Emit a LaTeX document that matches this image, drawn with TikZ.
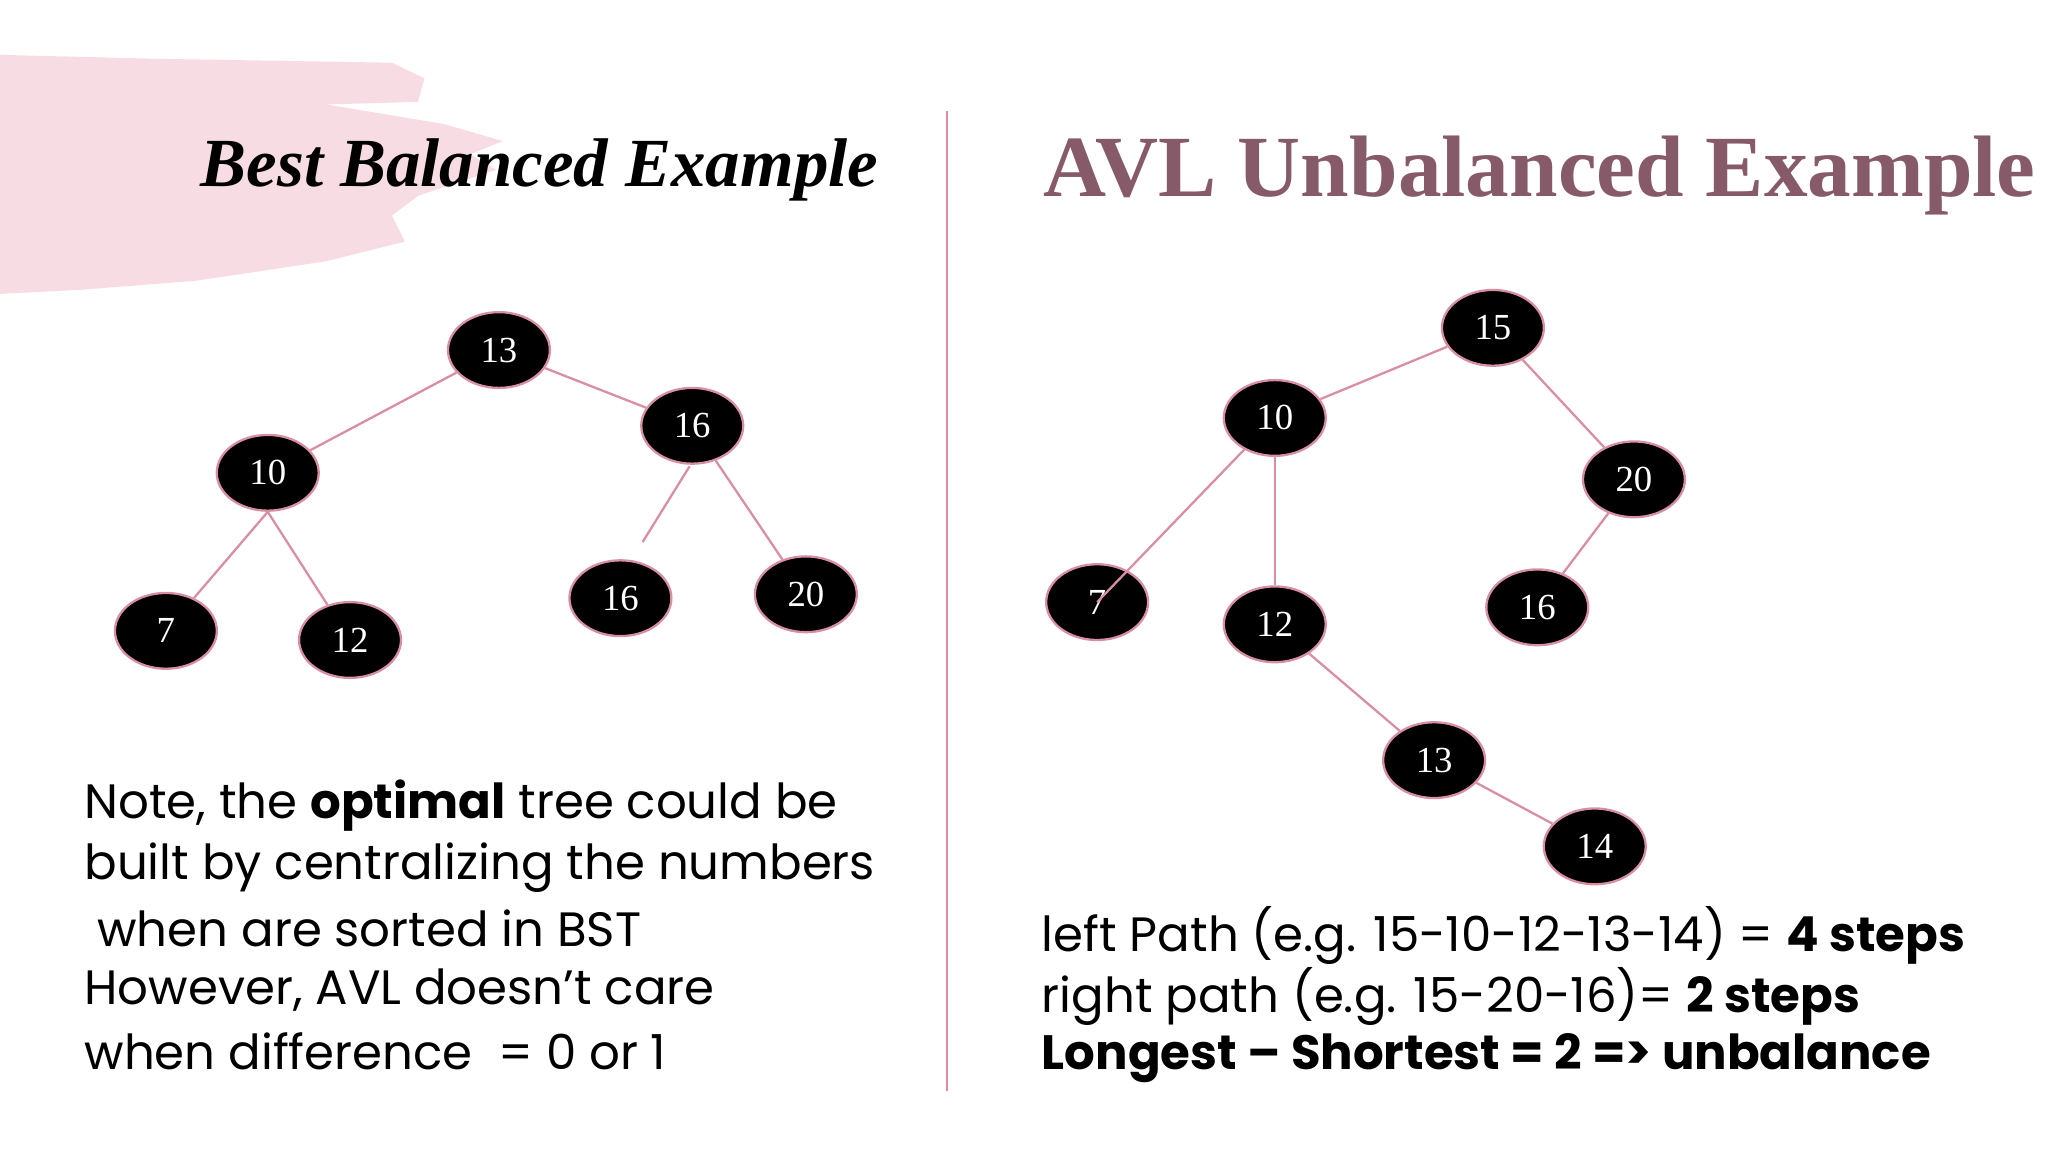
\documentclass[tikz,border=0pt]{standalone}
\usepackage{fontspec}
\setmainfont{Liberation Serif}
\newfontfamily\bodyfont{Poppins}
\usetikzlibrary{shapes.geometric}
\definecolor{pinkline}{HTML}{D98FA3}
\definecolor{blush}{HTML}{F7DDE3}
\definecolor{plum}{HTML}{875A6A}
\tikzset{
  tn/.style={ellipse,fill=black,draw=pinkline,line width=0.5pt,minimum width=0.78cm,minimum height=0.58cm,inner sep=0pt,text=white,font=\fontsize{8}{8}\selectfont},
  ed/.style={pinkline,line width=0.5pt},
  body/.style={anchor=west,font=\bodyfont\fontsize{10.5}{12}\selectfont,inner sep=0pt}
}
\begin{document}
\begin{tikzpicture}[x=0.01cm,y=-0.01cm]
\useasboundingbox (0,0) rectangle (1568,882);
\fill[white] (0,0) rectangle (1568,882);
% brush
\fill[blush] (0,42) -- (120,45) -- (300,48) -- (325,60) -- (320,78) -- (250,80) -- (340,95) -- (385,108) -- (360,118) -- (380,130) -- (320,150) -- (300,165) -- (310,185) -- (250,200) -- (150,215) -- (60,222) -- (0,225) -- cycle;
% divider
\draw[pinkline,line width=0.6pt] (725,85) -- (725,835);
% titles
\node[anchor=center,font=\bfseries\itshape\fontsize{15}{15}\selectfont] (t1) at (413,130) {Best Balanced Example};
\node[anchor=west,text=plum,font=\bfseries\fontsize{19}{19}\selectfont,inner sep=0pt] (t2) at (798,134) {AVL Unbalanced Example};
% left tree
\node[tn] (a13) at (382,268) {13};
\node[tn] (a16) at (530,326) {16};
\node[tn] (a10) at (205,362) {10};
\node[tn] (a7) at (127,483) {7};
\node[tn] (a12) at (268,490) {12};
\node[tn] (a16b) at (475,458) {16};
\node[tn] (a20) at (617,455) {20};
\coordinate (s1) at (528,357);
\coordinate (s2) at (492,415);
\draw[ed] (a13) -- (a10);
\draw[ed] (a13) -- (a16);
\draw[ed] (a10.south) -- (a7);
\draw[ed] (a10.south) -- (a12);
\draw[ed] (s1) -- (s2);
\draw[ed] (a16) -- (a20);
% right tree
\node[tn] (b15) at (1143,251) {15};
\node[tn] (b10) at (976,320) {10};
\node[tn] (b20) at (1251,367) {20};
\node[tn] (b7) at (840,461) {7};
\node[tn] (b12) at (976,478) {12};
\node[tn] (b16) at (1177,465) {16};
\node[tn] (b13) at (1098,582) {13};
\node[tn] (b14) at (1221,648) {14};
\draw[ed] (b15) -- (b10);
\draw[ed] (b15) -- (b20);
\draw[ed] (b10) -- (b7.center);
\draw[ed] (b10) -- (b12);
\draw[ed] (b20) -- (b16);
\draw[ed] (b12) -- (b13);
\draw[ed] (b13) -- (b14);
% texts
\node[body] (l1) at (64,617) {Note, the \textbf{optimal} tree could be};
\node[body] (l2) at (64,664) {built by centralizing the numbers};
\node[body] (l3) at (64,711) {\ when are sorted in BST};
\node[body] (l4) at (64,758) {However, AVL doesn’t care};
\node[body] (l5) at (64,805) {when difference\ \ = 0 or 1};
\node[body] (r1) at (797,716) {left Path (e.g. 15-10-12-13-14) = \textbf{4 steps}};
\node[body] (r2) at (797,763) {right path (e.g. 15-20-16)= \textbf{2 steps}};
\node[body] (r3) at (797,810) {\textbf{Longest – Shortest = 2 => unbalance}};
\end{tikzpicture}
\end{document}
